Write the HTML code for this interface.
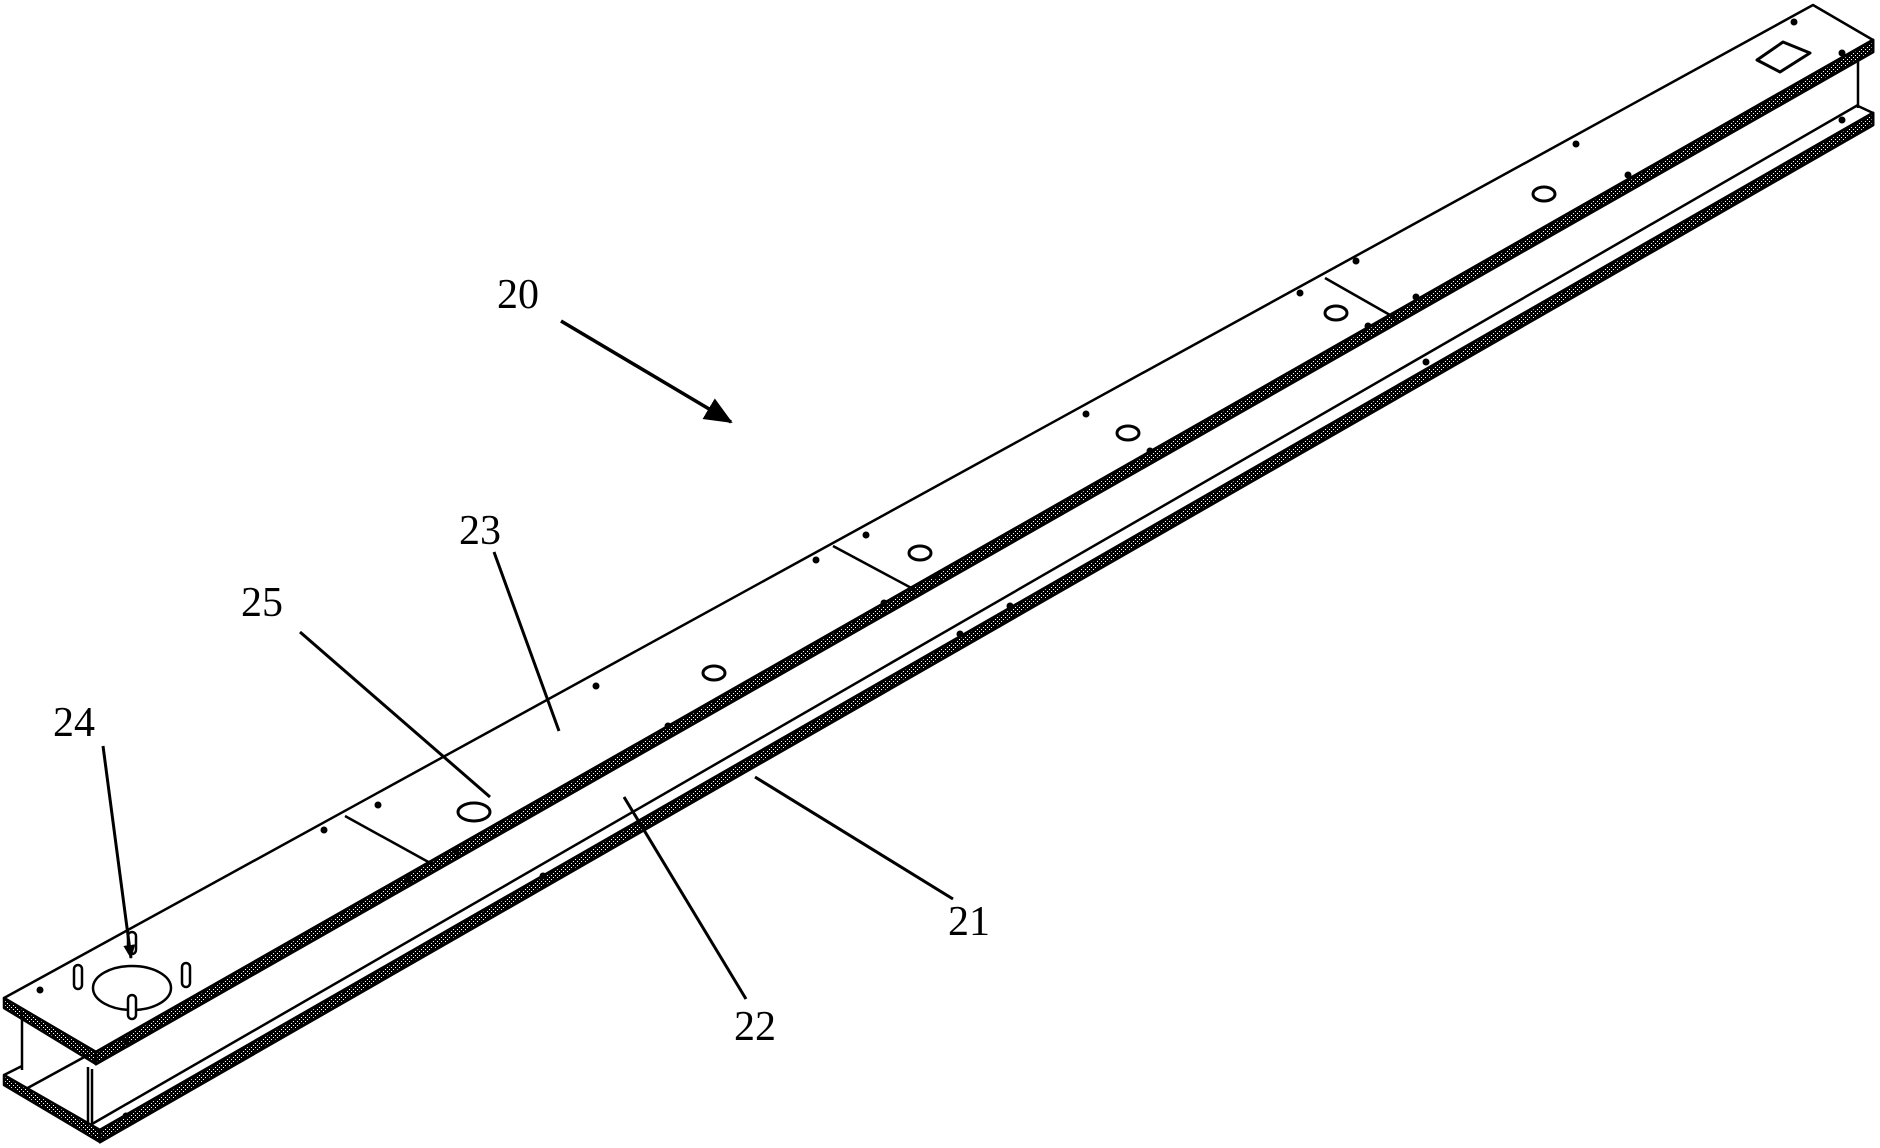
<!DOCTYPE html>
<html><head><meta charset="utf-8"><style>
html,body{margin:0;padding:0;background:#fff}
svg{display:block}
text{font-family:"Liberation Serif",serif;font-size:42px;fill:#000}
</style></head><body>
<svg width="1880" height="1148" viewBox="0 0 1880 1148" xmlns="http://www.w3.org/2000/svg">
<defs>
<pattern id="h" width="4" height="4" patternUnits="userSpaceOnUse">
<rect width="4" height="4" fill="#000"/><rect x="1" y="1" width="1" height="1" fill="#fff"/><rect x="3" y="3" width="1" height="1" fill="#fff"/>
</pattern>
<marker id="a" markerWidth="28" markerHeight="24" refX="26" refY="12" orient="auto" markerUnits="userSpaceOnUse" viewBox="0 0 28 24">
<path d="M0,0 L28,12 L0,24z" fill="#000"/></marker>
<marker id="b" markerWidth="14" markerHeight="12" refX="13" refY="6" orient="auto" markerUnits="userSpaceOnUse" viewBox="0 0 14 12">
<path d="M0,0 L14,6 L0,12z" fill="#000"/></marker>
</defs>
<g fill="none" stroke="#000" stroke-width="2.5" stroke-linejoin="round">
<polygon points="4,998 1813,5 1873,40 96,1052" fill="#fff"/>
<polygon points="96,1052 1873,40 1873,52 96,1064" fill="url(#h)" stroke-width="3"/>
<polygon points="4,998 96,1052 96,1064 4,1008" fill="url(#h)"/>
<line x1="22" y1="1013" x2="22" y2="1070"/>
<line x1="88" y1="1067" x2="88" y2="1128"/>
<line x1="92" y1="1069" x2="92" y2="1128"/>
<line x1="1858" y1="60" x2="1858" y2="108"/>
<line x1="92" y1="1124" x2="1858" y2="105"/>
<line x1="24" y1="1090" x2="88" y2="1055"/>
<line x1="4" y1="1075" x2="22" y2="1066"/>
<line x1="1858" y1="106" x2="1873" y2="113"/>
<polygon points="4,1075 100,1130 100,1142 4,1085" fill="url(#h)"/>
<polygon points="100,1130 1873,113 1873,125 100,1142" fill="url(#h)" stroke-width="3"/>
<line x1="345" y1="816" x2="432" y2="864"/>
<line x1="833" y1="546" x2="917" y2="591"/>
<line x1="1325" y1="278" x2="1397" y2="319"/>
<polygon points="1757,60 1783,42 1810,53 1780,72" stroke-width="3"/>
<ellipse cx="474" cy="812" rx="16" ry="9" stroke-width="3"/>
<ellipse cx="714" cy="673" rx="11" ry="7" stroke-width="3"/>
<ellipse cx="920" cy="553" rx="11" ry="7" stroke-width="3"/>
<ellipse cx="1128" cy="433" rx="11" ry="7" stroke-width="3"/>
<ellipse cx="1336" cy="313" rx="11" ry="7" stroke-width="3"/>
<ellipse cx="1544" cy="194" rx="11" ry="7" stroke-width="3"/>
<ellipse cx="132" cy="988" rx="39" ry="22"/>
<rect x="74" y="965" width="8" height="24" rx="4" fill="#fff"/>
<rect x="182" y="963" width="8" height="24" rx="4" fill="#fff"/>
<rect x="128" y="995" width="8" height="24" rx="4" fill="#fff"/>
<rect x="128" y="932" width="8" height="22" rx="4" fill="#fff"/>
</g>
<g fill="#000">
<circle cx="40" cy="990" r="3.5"/><circle cx="126" cy="1041" r="3.5"/><circle cx="324" cy="830" r="3.5"/><circle cx="378" cy="805" r="3.5"/>
<circle cx="408" cy="880" r="3.5"/><circle cx="456" cy="851" r="3.5"/><circle cx="596" cy="686" r="3.5"/><circle cx="668" cy="726" r="3.5"/>
<circle cx="816" cy="560" r="3.5"/><circle cx="866" cy="535" r="3.5"/><circle cx="884" cy="603" r="3.5"/><circle cx="936" cy="576" r="3.5"/>
<circle cx="1086" cy="414" r="3.5"/><circle cx="1150" cy="451" r="3.5"/><circle cx="1300" cy="293" r="3.5"/><circle cx="1356" cy="261" r="3.5"/>
<circle cx="1368" cy="326" r="3.5"/><circle cx="1416" cy="297" r="3.5"/><circle cx="1576" cy="144" r="3.5"/><circle cx="1628" cy="175" r="3.5"/>
<circle cx="1794" cy="22" r="3.5"/><circle cx="1842" cy="53" r="3.5"/>
<circle cx="126" cy="1116" r="3.5"/><circle cx="543" cy="876" r="3.5"/><circle cx="960" cy="634" r="3.5"/><circle cx="1010" cy="606" r="3.5"/>
<circle cx="1426" cy="362" r="3.5"/><circle cx="1842" cy="120" r="3.5"/>
</g>
<g stroke="#000" stroke-width="3" fill="none">
<line x1="561" y1="321" x2="731" y2="422" stroke-width="3.5" marker-end="url(#a)"/>
<line x1="494" y1="552" x2="559" y2="731"/>
<line x1="300" y1="632" x2="490" y2="797"/>
<line x1="103" y1="746" x2="131" y2="958" marker-end="url(#b)"/>
<line x1="953" y1="899" x2="755" y2="777"/>
<line x1="746" y1="999" x2="624" y2="797"/>
</g>
<text x="518" y="308" text-anchor="middle">20</text>
<text x="480" y="544" text-anchor="middle">23</text>
<text x="262" y="616" text-anchor="middle">25</text>
<text x="74" y="736" text-anchor="middle">24</text>
<text x="969" y="935" text-anchor="middle">21</text>
<text x="755" y="1040" text-anchor="middle">22</text>
</svg>
</body></html>
